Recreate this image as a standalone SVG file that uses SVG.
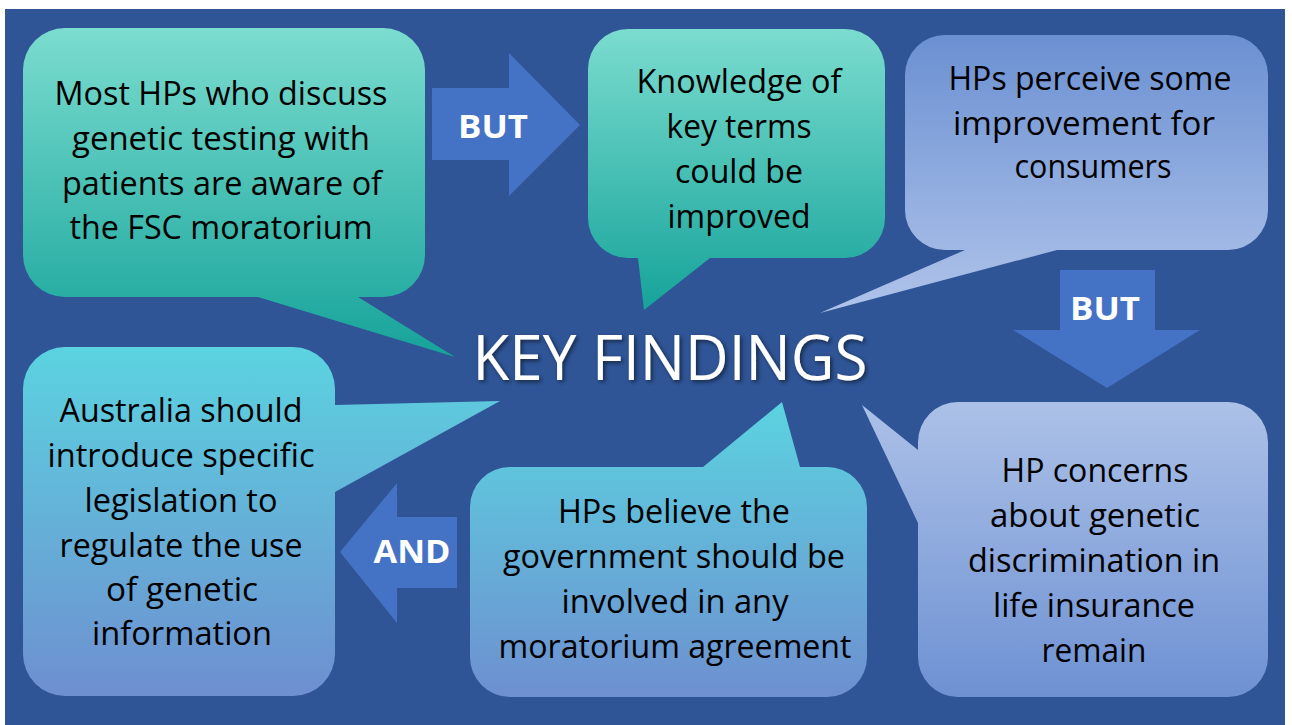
<svg xmlns="http://www.w3.org/2000/svg" width="1292" height="725" viewBox="0 0 1292 725">
<style>
.body{font-family:"Open Sans","Liberation Sans",sans-serif;font-size:32px;fill:#000;text-anchor:middle}
.lbl{font-family:"Open Sans","Liberation Sans",sans-serif;font-size:33px;font-weight:bold;fill:#fff;text-anchor:middle}
.title{font-family:"Open Sans","Liberation Sans",sans-serif;font-size:63px;font-weight:400;fill:#fff;text-anchor:middle}
.arrow{fill:#4472C4}
</style>
<defs>
<linearGradient id="teal" x1="0" y1="0" x2="0" y2="1">
<stop offset="0" stop-color="#7BDCCF"/>
<stop offset="1" stop-color="#16A39A"/>
</linearGradient>
<linearGradient id="peri" x1="0" y1="0" x2="0" y2="1">
<stop offset="0" stop-color="#6B90D2"/>
<stop offset="1" stop-color="#B0C4EA"/>
</linearGradient>
<linearGradient id="periR" x1="0" y1="0" x2="0" y2="1">
<stop offset="0" stop-color="#ACC1E7"/>
<stop offset="1" stop-color="#6E91D3"/>
</linearGradient>
<linearGradient id="cyan" x1="0" y1="0" x2="0" y2="1">
<stop offset="0" stop-color="#5BD3E0"/>
<stop offset="1" stop-color="#6E8FD0"/>
</linearGradient>
<filter id="shadow" x="-10%" y="-30%" width="120%" height="160%">
<feDropShadow dx="2" dy="2" stdDeviation="2" flood-color="#000" flood-opacity="0.55"/>
</filter>
</defs>
<rect x="0" y="0" width="1292" height="725" fill="#fff"/>
<rect x="5" y="9" width="1280" height="716" fill="#2F5597"/>

<g id="connectors">
<polygon class="arrow" points="432,88 509,88 509,53 580,125 509,196 509,160 432,160"/>
<text class="lbl" x="493" y="138" textLength="70" lengthAdjust="spacingAndGlyphs">BUT</text>
<polygon class="arrow" points="1060,270 1155,270 1155,330 1200,330 1107,388 1013,330 1060,330"/>
<text class="lbl" x="1105" y="320" textLength="70" lengthAdjust="spacingAndGlyphs">BUT</text>
<polygon class="arrow" points="457,517 457,588 397,588 397,623 340,552 397,483 397,517"/>
<text class="lbl" x="412" y="563" textLength="77" lengthAdjust="spacingAndGlyphs">AND</text>
</g>

<g id="n1">
<path fill="url(#teal)" d="M65,28 H383 A42,42 0 0 1 425,70 V255 A42,42 0 0 1 383,297 H358 L455,357 L258,297 H65 A42,42 0 0 1 23,255 V70 A42,42 0 0 1 65,28 Z"/>
<text class="body" x="221" y="105" textLength="333" lengthAdjust="spacingAndGlyphs">Most HPs who discuss</text>
<text class="body" x="221" y="150" textLength="298" lengthAdjust="spacingAndGlyphs">genetic testing with</text>
<text class="body" x="222" y="195" textLength="320" lengthAdjust="spacingAndGlyphs">patients are aware of</text>
<text class="body" x="221" y="239" textLength="303" lengthAdjust="spacingAndGlyphs">the FSC moratorium</text>
</g>

<g id="n2">
<path fill="url(#teal)" d="M628,29 H845 A40,40 0 0 1 885,69 V218 A40,40 0 0 1 845,258 H710 L644,310 L638,258 H628 A40,40 0 0 1 588,218 V69 A40,40 0 0 1 628,29 Z"/>
<text class="body" x="739" y="93" textLength="205" lengthAdjust="spacingAndGlyphs">Knowledge of</text>
<text class="body" x="739" y="138" textLength="145" lengthAdjust="spacingAndGlyphs">key terms</text>
<text class="body" x="739" y="183" textLength="128" lengthAdjust="spacingAndGlyphs">could be</text>
<text class="body" x="739" y="228" textLength="143" lengthAdjust="spacingAndGlyphs">improved</text>
</g>

<g id="n3">
<path fill="url(#peri)" d="M945,35 H1228 A40,40 0 0 1 1268,75 V210 A40,40 0 0 1 1228,250 H1057 L820,313 L965,250 H945 A40,40 0 0 1 905,210 V75 A40,40 0 0 1 945,35 Z"/>
<text class="body" x="1090" y="90" textLength="283" lengthAdjust="spacingAndGlyphs">HPs perceive some</text>
<text class="body" x="1084" y="135" textLength="262" lengthAdjust="spacingAndGlyphs">improvement for</text>
<text class="body" x="1093" y="178" textLength="157" lengthAdjust="spacingAndGlyphs">consumers</text>
</g>

<g id="center">
<text class="title" x="670" y="380" textLength="395" lengthAdjust="spacingAndGlyphs" filter="url(#shadow)">KEY FINDINGS</text>
</g>

<g id="n4">
<path fill="url(#cyan)" d="M65,347 H293 A42,42 0 0 1 335,389 V405 L500,401 L335,492 V654 A42,42 0 0 1 293,696 H65 A42,42 0 0 1 23,654 V389 A42,42 0 0 1 65,347 Z"/>
<text class="body" x="181" y="422" textLength="243" lengthAdjust="spacingAndGlyphs">Australia should</text>
<text class="body" x="181" y="467" textLength="267" lengthAdjust="spacingAndGlyphs">introduce specific</text>
<text class="body" x="181" y="512" textLength="193" lengthAdjust="spacingAndGlyphs">legislation to</text>
<text class="body" x="181" y="557" textLength="243" lengthAdjust="spacingAndGlyphs">regulate the use</text>
<text class="body" x="182" y="601" textLength="152" lengthAdjust="spacingAndGlyphs">of genetic</text>
<text class="body" x="182" y="645" textLength="180" lengthAdjust="spacingAndGlyphs">information</text>
</g>

<g id="n5">
<path fill="url(#cyan)" d="M510,467 H703 L782,402 L800,467 H827 A40,40 0 0 1 867,507 V657 A40,40 0 0 1 827,697 H510 A40,40 0 0 1 470,657 V507 A40,40 0 0 1 510,467 Z"/>
<text class="body" x="674" y="523" textLength="232" lengthAdjust="spacingAndGlyphs">HPs believe the</text>
<text class="body" x="674" y="568" textLength="342" lengthAdjust="spacingAndGlyphs">government should be</text>
<text class="body" x="675" y="613" textLength="227" lengthAdjust="spacingAndGlyphs">involved in any</text>
<text class="body" x="675" y="658" textLength="353" lengthAdjust="spacingAndGlyphs">moratorium agreement</text>
</g>

<g id="n6">
<path fill="url(#periR)" d="M958,402 H1228 A40,40 0 0 1 1268,442 V657 A40,40 0 0 1 1228,697 H958 A40,40 0 0 1 918,657 V523 L862,405 L918,450 V442 A40,40 0 0 1 958,402 Z"/>
<text class="body" x="1095" y="482" textLength="187" lengthAdjust="spacingAndGlyphs">HP concerns</text>
<text class="body" x="1095" y="527" textLength="210" lengthAdjust="spacingAndGlyphs">about genetic</text>
<text class="body" x="1094" y="572" textLength="252" lengthAdjust="spacingAndGlyphs">discrimination in</text>
<text class="body" x="1094" y="617" textLength="202" lengthAdjust="spacingAndGlyphs">life insurance</text>
<text class="body" x="1094" y="662" textLength="105" lengthAdjust="spacingAndGlyphs">remain</text>
</g>
</svg>
